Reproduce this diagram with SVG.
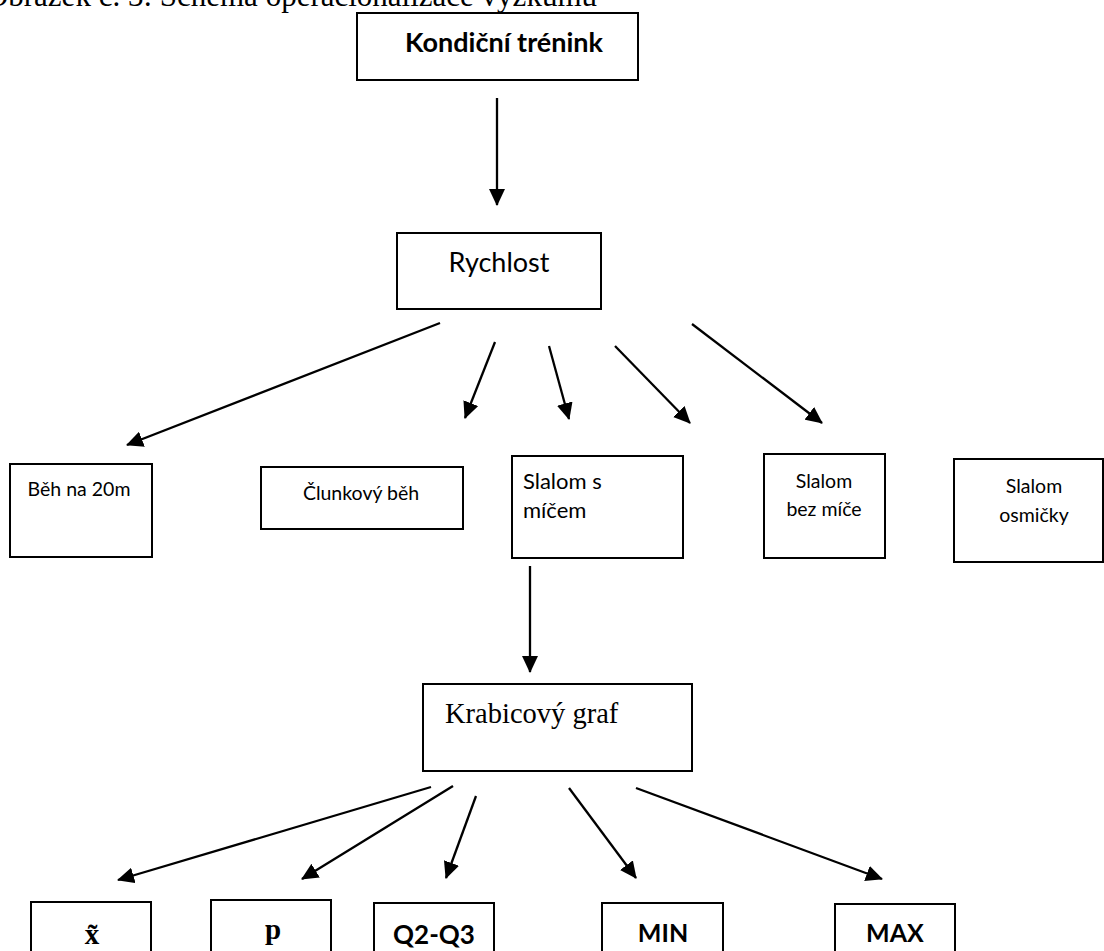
<svg xmlns="http://www.w3.org/2000/svg" width="1104" height="951" viewBox="0 0 1104 951">
<style>
.box{fill:#fff;stroke:#000;stroke-width:2}
.sans{font-family:Lato,"Open Sans","Liberation Sans",sans-serif;fill:#000}
.serif{font-family:"Liberation Serif","Times New Roman",serif;fill:#000}
.b{font-weight:bold}
.conn line{stroke:#000;stroke-width:2.3;marker-end:url(#ah)}
</style>
<defs>
<marker id="ah" markerUnits="userSpaceOnUse" markerWidth="18" markerHeight="16" refX="16" refY="8" orient="auto">
<path d="M0,0 L17,8 L0,16 z" fill="#000"/>
</marker>
</defs>
<rect width="1104" height="951" fill="#fff"/>
<text class="serif" x="597" y="6" font-size="31" text-anchor="end">Obrázek č. 3: Schéma operacionalizace výzkumu</text>

<g id="n-kondicni">
<rect class="box" x="357" y="13" width="281" height="67"/>
<text class="sans b" x="504" y="52" font-size="27" text-anchor="middle">Kondiční trénink</text>
</g>
<g id="n-rychlost">
<rect class="box" x="397" y="233" width="204" height="76"/>
<text class="sans" x="499" y="272" font-size="27" text-anchor="middle">Rychlost</text>
</g>
<g id="n-beh">
<rect class="box" x="10" y="464" width="142" height="93"/>
<text class="sans" x="79" y="496" font-size="19.5" text-anchor="middle">Běh na 20m</text>
</g>
<g id="n-clunkovy">
<rect class="box" x="261" y="467" width="202" height="62"/>
<text class="sans" x="361" y="500" font-size="19.5" text-anchor="middle">Člunkový běh</text>
</g>
<g id="n-slalom-s">
<rect class="box" x="512" y="456" width="171" height="102"/>
<text class="sans" x="523" y="489" font-size="22">Slalom s</text>
<text class="sans" x="523" y="518" font-size="22">míčem</text>
</g>
<g id="n-slalom-bez">
<rect class="box" x="764" y="454" width="121" height="104"/>
<text class="sans" x="824" y="488" font-size="19.5" text-anchor="middle">Slalom</text>
<text class="sans" x="824" y="516" font-size="19.5" text-anchor="middle">bez míče</text>
</g>
<g id="n-slalom-osm">
<rect class="box" x="954" y="459" width="149" height="103"/>
<text class="sans" x="1034" y="493" font-size="19.5" text-anchor="middle">Slalom</text>
<text class="sans" x="1034" y="522" font-size="19.5" text-anchor="middle">osmičky</text>
</g>
<g id="n-krabicovy">
<rect class="box" x="423" y="684" width="269" height="87"/>
<text class="serif" x="445" y="723" font-size="28.5">Krabicový graf</text>
</g>
<g id="n-median">
<rect class="box" x="31" y="902" width="120" height="70"/>
<text class="serif b" x="92" y="944" font-size="29" text-anchor="middle">x̃</text>
</g>
<g id="n-p">
<rect class="box" x="211" y="900" width="120" height="70"/>
<text class="serif b" x="273" y="939" font-size="29" text-anchor="middle">p</text>
</g>
<g id="n-q">
<rect class="box" x="374" y="903" width="120" height="70"/>
<text class="sans b" x="434" y="944" font-size="26" text-anchor="middle">Q2-Q3</text>
</g>
<g id="n-min">
<rect class="box" x="602" y="903" width="121" height="70"/>
<text class="sans b" x="663" y="942" font-size="25" text-anchor="middle">MIN</text>
</g>
<g id="n-max">
<rect class="box" x="835" y="904" width="120" height="70"/>
<text class="sans b" x="895" y="942" font-size="25" text-anchor="middle">MAX</text>
</g>

<g id="connectors" class="conn">
<line x1="497" y1="98" x2="497" y2="205"/>
<line x1="440" y1="323" x2="127" y2="445"/>
<line x1="495" y1="342" x2="465" y2="418"/>
<line x1="549" y1="346" x2="569" y2="419"/>
<line x1="615" y1="346" x2="690" y2="423"/>
<line x1="692" y1="324" x2="822" y2="423"/>
<line x1="530" y1="566" x2="530" y2="672"/>
<line x1="431" y1="787" x2="118" y2="880"/>
<line x1="453" y1="786" x2="302" y2="879"/>
<line x1="476" y1="796" x2="446" y2="878"/>
<line x1="569" y1="788" x2="636" y2="878"/>
<line x1="636" y1="788" x2="882" y2="879"/>
</g>
</svg>
